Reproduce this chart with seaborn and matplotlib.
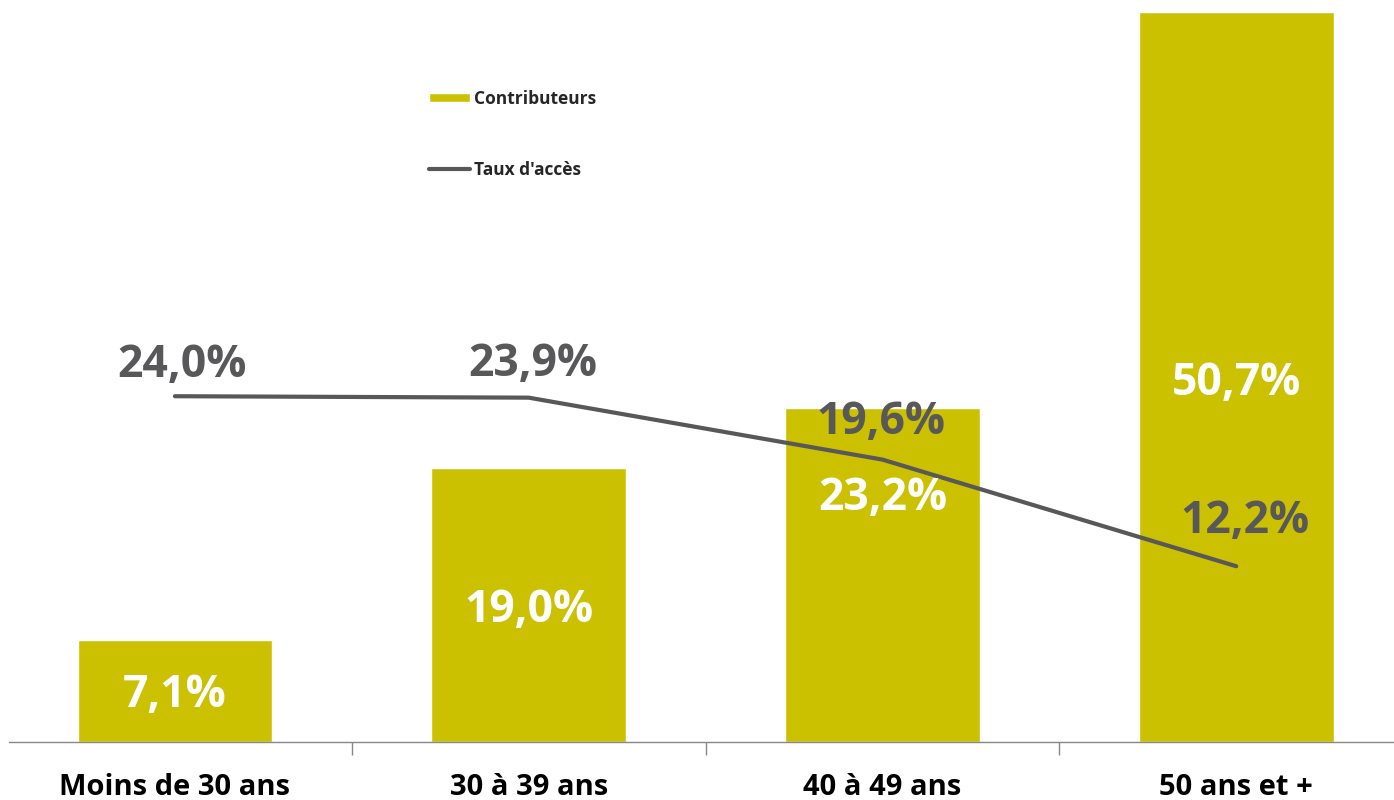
import pandas as pd
import seaborn as sns
import matplotlib.pyplot as plt
from matplotlib.ticker import FixedLocator

# données
tranches = ["Moins de 30 ans", "30 à 39 ans", "40 à 49 ans", "50 ans et +"]
contributeurs = [7.1, 19.0, 23.2, 50.7]
taux_acces = [24.0, 23.9, 19.6, 12.2]

df = pd.DataFrame({"tranche": tranches, "contributeurs": contributeurs, "taux": taux_acces})

sns.set_style("white")
plt.rcParams["font.family"] = ["Open Sans", "DejaVu Sans"]

jaune = "#CBC100"
gris = "#58585A"

fig = plt.figure(figsize=(13.94, 8), dpi=100)
ax = fig.add_axes([9 / 1394, 58 / 800, 1 - 9 / 1394, 742 / 800])

sns.barplot(data=df, x="tranche", y="contributeurs", color=jaune, width=0.55,
            saturation=1, label="Contributeurs", ax=ax)
sns.lineplot(data=df, x="tranche", y="taux", color=gris, linewidth=3,
             sort=False, label="Taux d'accès", ax=ax)

ax.set_xlim(-0.469, 3.446)
ax.set_ylim(0, 51.5)

# étiquettes des barres (blanches) - décalage en points
offsets_barres = [(0, -3), (0, -4), (0, 55), (0, -5)]
for i, (v, off) in enumerate(zip(contributeurs, offsets_barres)):
    ax.annotate(f"{v:.1f}%".replace(".", ","), (i, v / 2), xytext=off,
                textcoords="offset points", ha="center", va="center",
                color="white", fontsize=32, fontweight="bold")

# étiquettes de la courbe (grises)
offsets_ligne = [(5, 22), (3, 24), (-1, 27), (6, 32)]
for i, (v, off) in enumerate(zip(taux_acces, offsets_ligne)):
    ax.annotate(f"{v:.1f}%".replace(".", ","), (i, v), xytext=off,
                textcoords="offset points", ha="center", va="center",
                color=gris, fontsize=32, fontweight="bold")

for s in ["top", "right", "left"]:
    ax.spines[s].set_visible(False)
ax.spines["bottom"].set_color("#888888")
ax.spines["bottom"].set_linewidth(1)
ax.set_yticks([])
ax.set_xlabel("")
ax.set_ylabel("")
ax.tick_params(axis="x", which="major", length=0, pad=22, labelsize=21)
for t in ax.get_xticklabels():
    t.set_fontweight("bold")
    t.set_color("black")
ax.xaxis.set_minor_locator(FixedLocator([0.5, 1.5, 2.5]))
ax.tick_params(axis="x", which="minor", length=9, width=1, color="#888888", bottom=True)

h, l = ax.get_legend_handles_labels()
ordre = [l.index("Contributeurs"), l.index("Taux d'accès")]
leg = ax.legend([h[i] for i in ordre], [l[i] for i in ordre], loc="upper left",
                bbox_to_anchor=(404 / 1385, 0.9),
                frameon=False, handlelength=2.4, handleheight=0.45, handletextpad=0.2,
                labelspacing=3.05, prop={"weight": "bold", "size": 12.5})

fig.savefig("out.png", dpi=100)
